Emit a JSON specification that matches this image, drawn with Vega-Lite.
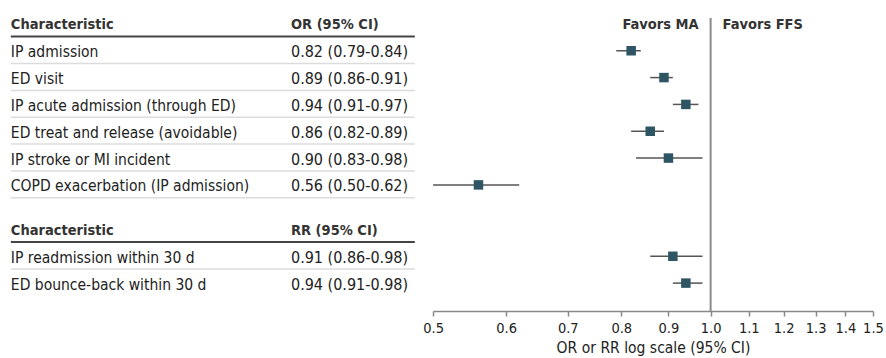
{
  "$schema": "https://vega.github.io/schema/vega-lite/v6.json",
  "padding": 0,
  "background": "white",
  "spacing": 0,
  "bounds": "flush",
  "config": {
    "view": {"stroke": null},
    "font": "DejaVu Sans Condensed",
    "text": {"font": "DejaVu Sans Condensed"}
  },
  "datasets": {
    "rows": [
      {"label": "IP admission", "ci": "0.82 (0.79-0.84)", "est": 0.82, "lo": 0.79, "hi": 0.84, "row": 1},
      {"label": "ED visit", "ci": "0.89 (0.86-0.91)", "est": 0.89, "lo": 0.86, "hi": 0.91, "row": 2},
      {"label": "IP acute admission (through ED)", "ci": "0.94 (0.91-0.97)", "est": 0.94, "lo": 0.91, "hi": 0.97, "row": 3},
      {"label": "ED treat and release (avoidable)", "ci": "0.86 (0.82-0.89)", "est": 0.86, "lo": 0.82, "hi": 0.89, "row": 4},
      {"label": "IP stroke or MI incident", "ci": "0.90 (0.83-0.98)", "est": 0.90, "lo": 0.83, "hi": 0.98, "row": 5},
      {"label": "COPD exacerbation (IP admission)", "ci": "0.56 (0.50-0.62)", "est": 0.56, "lo": 0.50, "hi": 0.62, "row": 6},
      {"label": "IP readmission within 30 d", "ci": "0.91 (0.86-0.98)", "est": 0.91, "lo": 0.86, "hi": 0.98, "row": 8.66},
      {"label": "ED bounce-back within 30 d", "ci": "0.94 (0.91-0.98)", "est": 0.94, "lo": 0.91, "hi": 0.98, "row": 9.66}
    ],
    "headers": [
      {"label": "Characteristic", "ci": "OR (95% CI)", "row": 0},
      {"label": "Characteristic", "ci": "RR (95% CI)", "row": 7.66}
    ]
  },
  "hconcat": [
    {
      "width": 433,
      "height": 311,
      "layer": [
        {
          "data": {"name": "rows"},
          "transform": [{"filter": "datum.row < 9"}],
          "mark": {"type": "rule", "color": "#dcdcdc", "strokeWidth": 1.5, "yOffset": 12.8},
          "encoding": {
            "x": {"datum": 2.5, "type": "quantitative", "scale": {"domain": [0, 100]}, "axis": null},
            "x2": {"datum": 95.8},
            "y": {"field": "row", "type": "quantitative", "scale": {"domain": [-0.892, 10.70], "reverse": true, "nice": false, "zero": false}, "axis": null}
          }
        },
        {
          "data": {"name": "headers"},
          "mark": {"type": "rule", "color": "#444444", "strokeWidth": 2, "yOffset": 12.6},
          "encoding": {
            "x": {"datum": 2.5, "type": "quantitative"},
            "x2": {"datum": 95.8},
            "y": {"field": "row", "type": "quantitative"}
          }
        },
        {
          "data": {"name": "rows"},
          "mark": {"type": "text", "align": "left", "baseline": "middle", "dy": 1.5, "fontSize": 15.5, "color": "#222222"},
          "encoding": {
            "x": {"datum": 2.5, "type": "quantitative"},
            "y": {"field": "row", "type": "quantitative"},
            "text": {"field": "label"}
          }
        },
        {
          "data": {"name": "rows"},
          "mark": {"type": "text", "align": "left", "baseline": "middle", "dy": 1.5, "fontSize": 16, "color": "#222222"},
          "encoding": {
            "x": {"datum": 67.2, "type": "quantitative"},
            "y": {"field": "row", "type": "quantitative"},
            "text": {"field": "ci"}
          }
        },
        {
          "data": {"name": "headers"},
          "mark": {"type": "text", "align": "left", "baseline": "middle", "dy": 1.5, "fontSize": 14.5, "fontWeight": "bold", "color": "#333333"},
          "encoding": {
            "x": {"datum": 2.5, "type": "quantitative"},
            "y": {"field": "row", "type": "quantitative"},
            "text": {"field": "label"}
          }
        },
        {
          "data": {"name": "headers"},
          "mark": {"type": "text", "align": "left", "baseline": "middle", "dy": 1.5, "fontSize": 14.5, "fontWeight": "bold", "color": "#333333"},
          "encoding": {
            "x": {"datum": 67.2, "type": "quantitative"},
            "y": {"field": "row", "type": "quantitative"},
            "text": {"field": "ci"}
          }
        }
      ]
    },
    {
      "width": 440,
      "height": 311,
      "layer": [
        {
          "data": {"values": [{"ref": 1}]},
          "mark": {"type": "rule", "color": "#8a8a8a", "strokeWidth": 2},
          "encoding": {
            "x": {"field": "ref", "type": "quantitative",
              "scale": {"type": "log", "domain": [0.4999, 1.5001], "nice": false},
              "axis": {
                "values": [0.5, 0.6, 0.7, 0.8, 0.9, 1.0, 1.1, 1.2, 1.3, 1.4, 1.5],
                "format": ".1f",
                "title": "OR or RR log scale (95% CI)",
                "grid": false,
                "labelOverlap": false,
                "labelFlush": false,
                "labelBound": false,
                "domainColor": "#888888",
                "domainWidth": 1.5,
                "tickColor": "#888888",
                "tickWidth": 1.5,
                "tickSize": 5,
                "labelFont": "DejaVu Sans Condensed",
                "labelFontSize": 14.5,
                "labelColor": "#222222",
                "labelPadding": 5,
                "titleFont": "DejaVu Sans Condensed",
                "titleFontSize": 15.5,
                "titleFontWeight": "normal",
                "titleColor": "#222222",
                "titlePadding": 6
              }
            },
            "y": {"datum": -0.22, "type": "quantitative", "scale": {"domain": [-0.892, 10.70], "reverse": true, "nice": false, "zero": false}, "axis": null},
            "y2": {"datum": 10.70}
          }
        },
        {
          "data": {"name": "rows"},
          "mark": {"type": "rule", "color": "#555555", "strokeWidth": 1.5},
          "encoding": {
            "x": {"field": "lo", "type": "quantitative"},
            "x2": {"field": "hi"},
            "y": {"field": "row", "type": "quantitative"}
          }
        },
        {
          "data": {"name": "rows"},
          "mark": {"type": "square", "color": "#2d5563", "opacity": 1, "size": 90},
          "encoding": {
            "x": {"field": "est", "type": "quantitative"},
            "y": {"field": "row", "type": "quantitative"}
          }
        },
        {
          "data": {"values": [{"t": "Favors MA"}]},
          "mark": {"type": "text", "align": "right", "baseline": "middle", "dx": -12, "dy": 1.5, "fontSize": 14.5, "fontWeight": "bold", "color": "#333333"},
          "encoding": {
            "x": {"datum": 1, "type": "quantitative"},
            "y": {"datum": 0, "type": "quantitative"},
            "text": {"field": "t"}
          }
        },
        {
          "data": {"values": [{"t": "Favors FFS"}]},
          "mark": {"type": "text", "align": "left", "baseline": "middle", "dx": 12, "dy": 1.5, "fontSize": 14.5, "fontWeight": "bold", "color": "#333333"},
          "encoding": {
            "x": {"datum": 1, "type": "quantitative"},
            "y": {"datum": 0, "type": "quantitative"},
            "text": {"field": "t"}
          }
        }
      ]
    }
  ]
}
